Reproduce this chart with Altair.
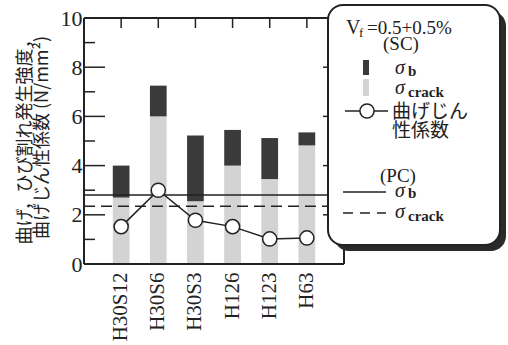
import altair as alt
import pandas as pd

# ---- data ----
cats = ["H30S12", "H30S6", "H30S3", "H126", "H123", "H63"]
crack = [2.7, 6.0, 2.55, 4.0, 3.45, 4.82]       # σcrack (SC), light bars
bend = [4.0, 7.25, 5.22, 5.45, 5.12, 5.35]      # σb (SC), top of dark bars
tough = [1.52, 3.0, 1.78, 1.52, 1.02, 1.06]     # 曲げじん性係数
pc_bend = [2.8]
pc_crack = [2.35]
major_ticks = [0, 2, 4, 6, 8, 10]
minor_ticks = [1, 3, 5, 7, 9]

W, H = 260, 246
INK = "#222222"
DARK = "#3a3a3a"
LIGHT = "#d3d3d3"
SERIF = "Liberation Serif"
CJK = "Noto Sans CJK JP"

df = pd.DataFrame({"cat": cats, "crack": crack, "bend": bend, "tough": tough})
one = pd.DataFrame({"a": [0]})

xs = alt.Scale(domain=cats, paddingInner=0.55, paddingOuter=0.775)
ys = alt.Scale(domain=[0, 10], nice=False)

x_axis = alt.Axis(labelFont=SERIF, labelFontSize=21, labelColor=INK, labelAngle=270,
                  labelAlign="right", labelBaseline="middle", labelPadding=8,
                  ticks=False, domain=False, grid=False, title=None)
y_axis = alt.Axis(values=major_ticks, labelFont=SERIF, labelFontSize=22, labelColor=INK,
                  labelPadding=2, ticks=False, domain=False, grid=False,
                  title=["曲げ，ひび割れ発生強度，", "曲げじん性係数 (N/mm²)"],
                  titleFont=CJK, titleFontSize=18, titleFontWeight="normal",
                  titleColor=INK, titleLineHeight=17.5, titleAngle=270, titleLimit=400,
                  titleX=-68, titleY=119, titleAlign="center", titleBaseline="top")

X = alt.X("cat:N", scale=xs, sort=cats, axis=x_axis)

base = alt.Chart(df)

light_bars = base.mark_bar(color=LIGHT).encode(
    x=X, y=alt.Y("crack:Q", scale=ys, axis=y_axis))
dark_bars = base.mark_bar(color=DARK).encode(
    x=X, y=alt.Y("crack:Q", scale=ys, axis=y_axis), y2="bend:Q")

pc_b = alt.Chart(pd.DataFrame({"v": pc_bend})).mark_rule(color=INK, strokeWidth=1.5).encode(
    y=alt.Y("v:Q", scale=ys, axis=y_axis), x=alt.value(0), x2=alt.value(W))
pc_c = alt.Chart(pd.DataFrame({"v": pc_crack})).mark_rule(
    color=INK, strokeWidth=1.5, strokeDash=[11, 6]).encode(
    y=alt.Y("v:Q", scale=ys, axis=y_axis), x=alt.value(0), x2=alt.value(W))

tough_line = base.mark_line(color=INK, strokeWidth=1.5).encode(
    x=X, y=alt.Y("tough:Q", scale=ys, axis=y_axis))
tough_pts = base.mark_point(shape="circle", filled=True, fill="white", stroke=INK,
                            strokeWidth=1.5, size=200, opacity=1).encode(
    x=X, y=alt.Y("tough:Q", scale=ys, axis=y_axis))

# inward ticks
maj = pd.DataFrame({"v": major_ticks})
mnr = pd.DataFrame({"v": minor_ticks})
tick_layers = []
for d, L in [(maj, 21), (mnr, 11)]:
    tick_layers.append(alt.Chart(d).mark_rule(color=INK, strokeWidth=1.5).encode(
        y=alt.Y("v:Q", scale=ys, axis=y_axis), x=alt.value(0), x2=alt.value(L)))
    tick_layers.append(alt.Chart(d).mark_rule(color=INK, strokeWidth=1.5).encode(
        y=alt.Y("v:Q", scale=ys, axis=y_axis), x=alt.value(W), x2=alt.value(W - L)))
top_ticks = base.mark_rule(color=INK, strokeWidth=1.5).encode(
    x=X, y=alt.value(0), y2=alt.value(10))

# frame
frame = [
    alt.Chart(one).mark_rule(color=INK, strokeWidth=2).encode(x=alt.value(0), x2=alt.value(W), y=alt.value(0)),
    alt.Chart(one).mark_rule(color=INK, strokeWidth=2).encode(x=alt.value(0), x2=alt.value(W), y=alt.value(H)),
    alt.Chart(one).mark_rule(color=INK, strokeWidth=2).encode(x=alt.value(0), y=alt.value(0), y2=alt.value(H)),
    alt.Chart(one).mark_rule(color=INK, strokeWidth=2).encode(x=alt.value(W), y=alt.value(0), y2=alt.value(H)),
]

# legend box
lx0, lx1, ly0, ly1 = 244, 416, -13, 227
shadow = alt.Chart(one).mark_rect(color="#2a2a2a", cornerRadius=15).encode(
    x=alt.value(lx0 + 6), x2=alt.value(lx1 + 6), y=alt.value(ly0 + 6), y2=alt.value(ly1 + 6))
box = alt.Chart(one).mark_rect(fill="white", stroke=INK, strokeWidth=2, cornerRadius=15).encode(
    x=alt.value(lx0), x2=alt.value(lx1), y=alt.value(ly0), y2=alt.value(ly1))


def txt(t, x, y, size=20, font=SERIF, style="normal", weight="normal", align="left",
        baseline="alphabetic"):
    return alt.Chart(one).mark_text(text=t, font=font, fontSize=size, fontStyle=style,
                                    fontWeight=weight, align=align, baseline=baseline,
                                    color=INK).encode(x=alt.value(x), y=alt.value(y))


legend = [
    shadow, box,
    txt("V", 262, 16, 20),
    txt("f", 275, 19, 13),
    txt("=0.5+0.5%", 283, 16, 19),
    txt("(SC)", 317, 32, 19, align="center"),
    alt.Chart(one).mark_rect(color=DARK).encode(
        x=alt.value(279), x2=alt.value(285), y=alt.value(42), y2=alt.value(57)),
    txt("σ", 311, 56, 20, style="italic"),
    txt("b", 324, 57.5, 15, weight="bold"),
    alt.Chart(one).mark_rect(color=LIGHT).encode(
        x=alt.value(279), x2=alt.value(285), y=alt.value(61), y2=alt.value(78)),
    txt("σ", 311, 76, 20, style="italic"),
    txt("crack", 324, 79, 15, weight="bold"),
    alt.Chart(one).mark_rule(color=INK, strokeWidth=1.5).encode(
        x=alt.value(261), x2=alt.value(304), y=alt.value(93)),
    alt.Chart(one).mark_point(shape="circle", filled=True, fill="white", stroke=INK,
                              strokeWidth=1.5, size=200, opacity=1).encode(
        x=alt.value(283), y=alt.value(93)),
    txt("曲げじん", 308, 94, 19, font=CJK, baseline="middle"),
    txt("性係数", 308, 113, 19, font=CJK, baseline="middle"),
    txt("(PC)", 314, 164, 19, align="center"),
    alt.Chart(one).mark_rule(color=INK, strokeWidth=1.5).encode(
        x=alt.value(259), x2=alt.value(302), y=alt.value(174)),
    txt("σ", 311, 179, 20, style="italic"),
    txt("b", 324, 179.5, 15, weight="bold"),
    alt.Chart(one).mark_rule(color=INK, strokeWidth=1.5, strokeDash=[10, 7]).encode(
        x=alt.value(259), x2=alt.value(302), y=alt.value(195)),
    txt("σ", 311, 200, 20, style="italic"),
    txt("crack", 324, 203, 15, weight="bold"),
]

chart = alt.layer(
    light_bars, dark_bars, pc_b, pc_c, tough_line, tough_pts, *tick_layers, top_ticks,
    *frame, *legend
).properties(
    width=W, height=H,
    autosize=alt.AutoSizeParams(type="none"),
    padding={"left": 84, "top": 18, "right": 164, "bottom": 81},
    background="white",
).configure_view(stroke=None)

chart.save("out.html", embed_options={"renderer": "svg", "actions": False})
